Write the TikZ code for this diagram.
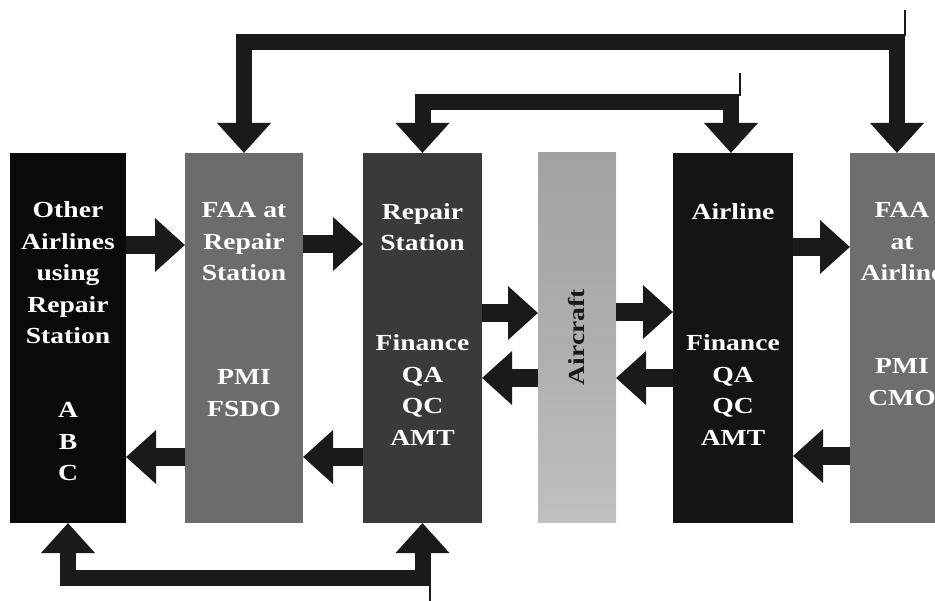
\documentclass[tikz,border=0pt]{standalone}
\usepackage{fontspec}
\setmainfont{Liberation Serif}[FakeStretch=1.2]
\usetikzlibrary{arrows.meta}
\definecolor{cB1}{HTML}{0A0A0A}
\definecolor{cB2}{HTML}{6C6C6C}
\definecolor{cB3}{HTML}{3A3A3A}
\definecolor{cB5}{HTML}{141414}
\definecolor{cB6}{HTML}{6E6E6E}
\definecolor{cAcT}{HTML}{A2A2A2}
\definecolor{cAcB}{HTML}{C0C0C0}
\definecolor{cArr}{HTML}{1A1A1A}
\begin{document}
\begin{tikzpicture}[x=1pt,y=-1pt,
  box/.style={minimum height=370pt,inner sep=0pt,outer sep=0pt,draw=none},
  lbl/.style={text=white,align=center,inner sep=0pt,font=\fontsize{23}{31.5}\selectfont\bfseries},
  harr/.style={draw=cArr,line width=18pt,-{Triangle[width=52pt,length=30pt]}},
  looparr/.style={draw=cArr,line width=16pt,line join=miter,{Triangle[width=52pt,length=30pt]}-{Triangle[width=52pt,length=30pt]}},
  thin/.style={draw=cArr,line width=1.3pt}]
\useasboundingbox (0,0) rectangle (935,601);
\clip (0,0) rectangle (935,601);
\fill[white] (0,0) rectangle (935,601);
% boxes
\node[box,fill=cB1,minimum width=116pt] (b1) at (68,338) {};
\node[box,fill=cB2,minimum width=118pt] (b2) at (244,338) {};
\node[box,fill=cB3,minimum width=119pt] (b3) at (422.5,338) {};
\node[box,top color=cAcT,bottom color=cAcB,middle color=cAcT!60!cAcB,minimum width=78pt] (ac) at (577,338) {};
\node[box,fill=cB5,minimum width=120pt] (b5) at (733,338) {};
\node[box,fill=cB6,minimum width=110pt] (b6) at (905,338) {};
% labels
\node[lbl] (t1a) at (68,273) {Other\\Airlines\\using\\Repair\\Station};
\node[lbl] (t1b) at (68,442) {A\\B\\C};
\node[lbl] (t2a) at (244,242) {FAA at\\Repair\\Station};
\node[lbl] (t2b) at (244,393) {PMI\\FSDO};
\node[lbl] (t3a) at (422.5,227) {Repair\\Station};
\node[lbl] (t3b) at (422.5,390) {Finance\\QA\\QC\\AMT};
\node[lbl] (t5a) at (733,212) {Airline};
\node[lbl] (t5b) at (733,390) {Finance\\QA\\QC\\AMT};
\node[lbl] (t6a) at (902,242) {FAA\\at\\Airline};
\node[lbl] (t6b) at (902,382) {PMI\\CMO};
\node[lbl,text=cArr,rotate=90] (tac) at (577,337) {Aircraft};
% horizontal arrows
\draw[harr] (b1.east |- 0,245) -- (b2.west |- 0,245);
\draw[harr] (b2.west |- 0,457) -- (b1.east |- 0,457);
\draw[harr] (b2.east |- 0,244) -- (b3.west |- 0,244);
\draw[harr] (b3.west |- 0,457) -- (b2.east |- 0,457);
\draw[harr] (b3.east |- 0,313) -- (ac.west |- 0,313);
\draw[harr] (ac.west |- 0,378) -- (b3.east |- 0,378);
\draw[harr] (ac.east |- 0,312) -- (b5.west |- 0,312);
\draw[harr] (b5.west |- 0,378) -- (ac.east |- 0,378);
\draw[harr] (b5.east |- 0,247) -- (b6.west |- 0,247);
\draw[harr] (b6.west |- 0,456) -- (b5.east |- 0,456);
% loops
\draw[looparr] (b2.north) -- (b2.north |- 0,42.5) -- ([xshift=-8pt]b6.north |- 0,42.5) -- ([xshift=-8pt]b6.north);
\draw[looparr] (b3.north) -- (b3.north |- 0,102.5) -- ([xshift=-2pt]b5.north |- 0,102.5) -- ([xshift=-2pt]b5.north);
\draw[looparr] (b1.south) -- (b1.south |- 0,577.5) -- (b3.south |- 0,577.5) -- (b3.south);
% thin lines
\coordinate (c1) at (905,10);
\coordinate (c2) at (740,73);
\coordinate (c3) at (430,601);
\draw[thin] (c1) -- (c1 |- 0,36);
\draw[thin] (c2) -- (c2 |- 0,96);
\draw[thin] (c3) -- (c3 |- 0,584);
\end{tikzpicture}
\end{document}
